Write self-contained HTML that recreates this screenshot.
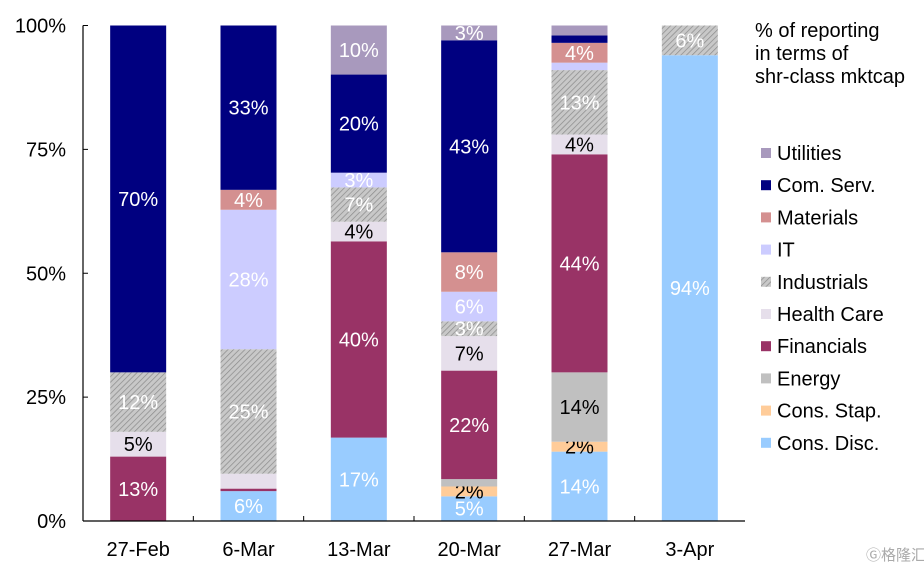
<!DOCTYPE html>
<html><head><meta charset="utf-8"><style>
html,body{margin:0;padding:0;background:#fff;}
svg{display:block;font-family:"Liberation Sans",Arial,sans-serif;}
</style></head><body>
<svg id="chart" width="924" height="574" viewBox="0 0 924 574" xmlns="http://www.w3.org/2000/svg">
<defs>
<pattern id="hatch" patternUnits="userSpaceOnUse" width="4" height="4" patternTransform="rotate(45)">
<rect width="4" height="4" fill="#c8c8c8"/>
<line x1="0" y1="0" x2="0" y2="4" stroke="#8a8a8a" stroke-width="1.4"/>
</pattern>
</defs>
<g id="bars"></g>
<g id="axes"></g>
<g id="legend"></g>
<text x="866" y="560" font-size="15" fill="#aaaaaa" font-family="'Liberation Sans','Noto Sans CJK SC',sans-serif">Ⓖ格隆汇</text>
</svg>
<script>
const categories = ["27-Feb","6-Mar","13-Mar","20-Mar","27-Mar","3-Apr"];
const sectors = ["Cons. Disc.","Cons. Stap.","Energy","Financials","Health Care","Industrials","IT","Materials","Com. Serv.","Utilities"];
const consDisc   = [0, 6, 17, 5, 14, 94];
const consStap   = [0, 0, 0, 2, 2, 0];
const energy     = [0, 0, 0, 1.5, 14, 0];
const financials = [13, 0.5, 40, 22, 44, 0];
const healthCare = [5, 3, 4, 7, 4, 0];
const industrials= [12, 25, 7, 3, 13, 6];
const it         = [0, 28, 3, 6, 1.5, 0];
const materials  = [0, 4, 0, 8, 4, 0];
const comServ    = [70, 33, 20, 43, 1.5, 0];
const utilities  = [0, 0, 10, 3, 2, 0];
const yTicks = [0, 25, 50, 75, 100];
const series = [consDisc,consStap,energy,financials,healthCare,industrials,it,materials,comServ,utilities];
const hiddenLabels = {"1-4":1,"1-3":1,"4-9":1};

const colors = ["#99ccff","#ffcc99","#c0c0c0","#993366","#e6dfeb","url(#hatch)","#ccccff","#d49090","#000080","#a899bd"];
const darkText = [false,true,true,false,true,false,false,false,false,false];
const NS="http://www.w3.org/2000/svg";
const X0=83, X1=745, Y0=521, Y100=25.5, BW=56, FS=20;
const slot=(X1-X0)/categories.length;
const xc=i=>X0+slot*(i+0.5);
const y=v=>Y0-(Y0-Y100)*v/100;
function mk(tag,attrs,parent){const e=document.createElementNS(NS,tag);for(const k in attrs)e.setAttribute(k,attrs[k]);parent.appendChild(e);return e;}
const gb=document.getElementById("bars"), ga=document.getElementById("axes"), gl=document.getElementById("legend");
categories.forEach((c,i)=>{
  let total=0; series.forEach(s=>total+=s[i]);
  const sc=100/total;
  let cum=0;
  series.forEach((s,k)=>{
    const v=s[i]; if(!v){return;}
    const a=cum*sc, b=(cum+v)*sc;
    const r=mk("rect",{x:xc(i)-BW/2,y:y(b),width:BW,height:y(a)-y(b),fill:colors[k]},gb);
    
    
    if(v>=2 && !hiddenLabels[i+"-"+k]){
      const t=mk("text",{x:xc(i),y:(y(a)+y(b))/2+7,"text-anchor":"middle","font-size":FS,fill:darkText[k]?"#000":"#fff"},gb);
      t.textContent=Math.round(v)+"%";
      
      
    }
    cum+=v;
  });
  const t=mk("text",{x:xc(i),y:556,"text-anchor":"middle","font-size":FS,fill:"#000"},ga);
  t.textContent=c;
  
  
  if(i>0){mk("line",{x1:X0+slot*i,x2:X0+slot*i,y1:Y0,y2:Y0-5,stroke:"#000"},ga);}
});
const ax=mk("line",{x1:X0,x2:X1,y1:Y0,y2:Y0,stroke:"#000","stroke-width":1.2},ga);


const ay=mk("line",{x1:X0,x2:X0,y1:Y100,y2:Y0,stroke:"#000","stroke-width":1.2},ga);


yTicks.forEach(v=>{
  mk("line",{x1:X0,x2:X0+5,y1:y(v),y2:y(v),stroke:"#000"},ga);
  const t=mk("text",{x:66,y:y(v)+7,"text-anchor":"end","font-size":FS,fill:"#000"},ga);
  t.textContent=v+"%";
  
  
});
["% of reporting","in terms of","shr-class mktcap"].forEach((s,j)=>{
  const t=mk("text",{x:755,y:37+j*23,"font-size":FS,fill:"#000"},gl);
  t.textContent=s;
  
  
});
for(let k=sectors.length-1,row=0;k>=0;k--,row++){
  const cy=153+row*32.2;
  const g=mk("g",{},gl);
  
  
  mk("rect",{x:761,y:cy-5,width:10,height:10,fill:colors[k]},g);
  const t=mk("text",{x:777,y:cy+7,"font-size":FS,fill:"#000"},g);
  t.textContent=sectors[k];
}
</script>
</body></html>
